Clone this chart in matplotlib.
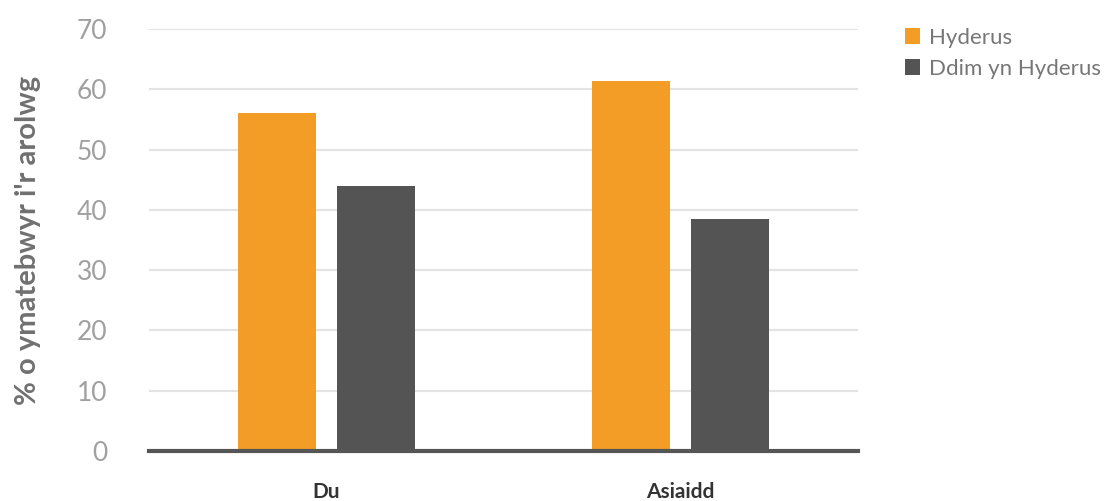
import matplotlib.pyplot as plt
import numpy as np

# data
categories = ['Du', 'Asiaidd']
hyderus = [56, 61.4]
ddim_hyderus = [44, 38.5]
series_names = ['Hyderus', 'Ddim yn Hyderus']

orange = '#F39C26'
dark = '#545454'

plt.rcParams['font.family'] = ['Lato', 'DejaVu Sans']

fig = plt.figure(figsize=(11.06, 5.01), dpi=100)
ax = fig.add_axes([0.1347, 0.0998, 0.6411, 0.8423])

x = np.arange(len(categories))
w = 0.22
ax.bar(x - 0.14, hyderus, w, color=orange, label=series_names[0], zorder=3)
ax.bar(x + 0.14, ddim_hyderus, w, color=dark, label=series_names[1], zorder=3)

ax.set_xlim(-0.5, 1.5)
ax.set_ylim(0, 70)
ax.set_yticks(range(0, 71, 10))
ax.yaxis.grid(True, color='#e3e3e3', linewidth=1.5, zorder=0)
ax.axhline(0, color='#555555', linewidth=3, zorder=4, clip_on=False)

for s in ax.spines.values():
    s.set_visible(False)
ax.tick_params(axis='both', length=0)
ax.tick_params(axis='y', labelsize=19, labelcolor='#a0a0a0', pad=30)

ax.set_xticks(x)
ax.set_xticklabels(categories, fontsize=15, fontweight='bold', color='#333333')
ax.tick_params(axis='x', pad=22)

ax.set_ylabel("% o ymatebwyr i'r arolwg", fontsize=21, fontweight='bold',
              color='#707070', labelpad=26)

fig.legend(loc='upper left', bbox_to_anchor=(0.8, 0.985), frameon=False,
           fontsize=16, labelcolor='#777777', handlelength=0.7, handleheight=0.7,
           handletextpad=0.4, labelspacing=0.5)

fig.savefig('out.png', dpi=100)
